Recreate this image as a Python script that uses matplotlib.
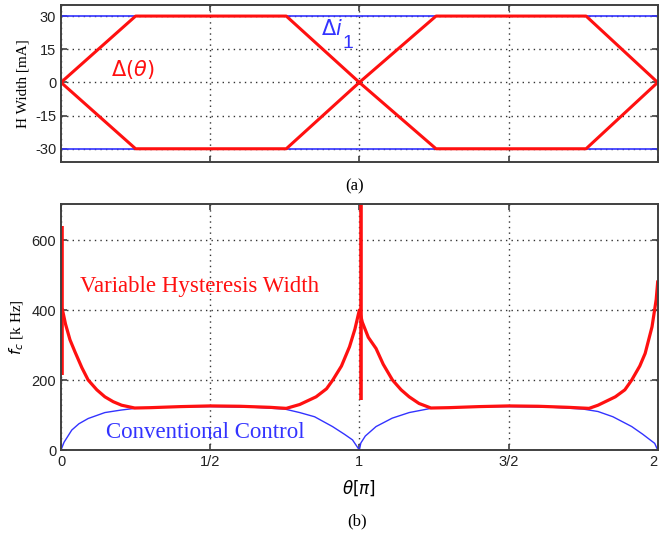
import matplotlib
matplotlib.use("Agg")
import matplotlib.pyplot as plt
import numpy as np

plt.rcParams["axes.unicode_minus"] = False

# ---- data ----
# top panel: hysteresis width vs theta [pi]
theta_top = [0.0, 0.25, 0.755, 1.0, 1.257, 1.76, 2.0]
width_upper = [0, 30, 30, 0, 30, 30, 0]
width_lower = [0, -30, -30, 0, -30, -30, 0]
fixed_width = 30  # Δi1 level

# bottom panel: switching frequency [kHz]
theta_var = [0.005, 0.015, 0.03, 0.047, 0.07, 0.091, 0.12, 0.147, 0.175, 0.203, 0.247,
             0.3, 0.4, 0.5, 0.6, 0.7, 0.755, 0.8, 0.855, 0.89, 0.911, 0.94,
             0.967, 0.985, 1.0, 1.01, 1.03, 1.056, 1.08, 1.111, 1.14, 1.167,
             1.2, 1.24, 1.3, 1.4, 1.5, 1.6, 1.7, 1.77, 1.8, 1.858, 1.89, 1.913,
             1.94, 1.958, 1.981, 1.995, 2.0]
f_var = [400, 360, 315, 280, 235, 200, 172, 152, 138, 128, 120,
         121, 124, 126, 125, 122, 119, 130, 152, 175, 200, 240,
         295, 345, 400, 365, 322, 290, 245, 200, 172, 152,
         133, 120, 121, 124, 126, 125, 122, 119, 128, 152, 172, 200,
         240, 276, 352, 430, 480]
# vertical spikes of the variable-width curve
spike_theta = [0.003, 1.004]
spike_low = [214, 143]
spike_high = [640, 720]

theta_conv = [0.0, 0.01, 0.036, 0.06, 0.091, 0.147, 0.2, 0.247, 0.35, 0.5,
              0.65, 0.75, 0.8, 0.85, 0.91, 0.95, 0.977, 1.0,
              1.005, 1.02, 1.056, 1.11, 1.167, 1.24, 1.35, 1.5, 1.65, 1.75,
              1.8, 1.85, 1.913, 1.95, 1.99, 2.0]
f_conv = [0, 22, 57, 75, 90, 107, 114, 119, 123, 124,
          122, 117, 107, 95, 67, 45, 29, 0,
          20, 40, 67, 91, 107, 119, 123, 124, 122, 117,
          110, 95, 67, 45, 19, 0]

xticks = [0, 0.5, 1, 1.5, 2]
xticklabels = ["0", "1/2", "1", "3/2", "2"]
yticks_top = [-30, -15, 0, 15, 30]
yticks_bot = [0, 200, 400, 600]

RED = "#ff1010"
BLUE = "#3333ff"
SPINE = "#404040"

fig = plt.figure(figsize=(6.59, 5.33), dpi=100)
ax1 = fig.add_axes([0.0926, 0.696, 0.9054, 0.2946])
ax2 = fig.add_axes([0.0926, 0.1557, 0.9054, 0.4616])

for ax in (ax1, ax2):
    ax.grid(True, linestyle=(0, (1, 3)), color="#333333", linewidth=1.0)
    ax.tick_params(direction="in", top=True, right=True, length=4,
                   colors=SPINE, labelcolor="#222222", labelsize=10.5, width=1.2)
    for s in ax.spines.values():
        s.set_color(SPINE)
        s.set_linewidth(1.4)
    ax.set_xlim(0, 2)
    ax.set_xticks(xticks)

# top panel
ax1.axhline(fixed_width, color=BLUE, lw=1.2)
ax1.axhline(-fixed_width, color=BLUE, lw=1.2)
ax1.plot(theta_top, width_upper, color=RED, lw=2.2)
ax1.plot(theta_top, width_lower, color=RED, lw=2.2)
ax1.set_ylim(-36, 35)
ax1.set_yticks(yticks_top)
ax1.set_xticklabels([])
ax1.set_ylabel("H Width [mA]", family="Liberation Serif", fontsize=11, labelpad=4)
ax1.text(0.24, 6, r"$\Delta(\theta)$", color=RED, fontsize=15, ha="center", va="center")
ax1.text(0.87, 24, r"$\Delta i$", color=BLUE, fontsize=15, ha="left", va="center")
ax1.text(0.945, 17.5, "1", color=BLUE, fontsize=14, ha="left", va="center",
         family="Liberation Sans")
for lab in ax1.get_yticklabels():
    lab.set_family("Liberation Sans")

# bottom panel
ax2.plot(theta_conv, f_conv, color=BLUE, lw=1.0)
ax2.plot(theta_var, f_var, color=RED, lw=2.3)
ax2.vlines(spike_theta, spike_low, spike_high, color=RED, lw=2.6)
ax2.set_ylim(0, 703)
ax2.set_yticks(yticks_bot)
ax2.set_xticklabels(xticklabels)
for lab in ax2.get_xticklabels() + ax2.get_yticklabels():
    lab.set_family("Liberation Sans")
ax2.get_xticklabels()[-1].set_ha("right")
ax2.set_ylabel(r"$f_c$ [k Hz]", family="Liberation Serif", fontsize=11, labelpad=4)
ax2.set_xlabel(r"$\theta[\pi]$", fontsize=12, labelpad=7)
ax2.text(0.465, 466, "Variable Hysteresis Width", color=RED, fontsize=16.5,
         ha="center", va="center", family="Liberation Serif")
ax2.text(0.485, 49, "Conventional Control", color=BLUE, fontsize=16.5,
         ha="center", va="center", family="Liberation Serif")

fig.text(355 / 659, 1 - 186 / 533, "(a)", ha="center", va="center",
         family="Liberation Serif", fontsize=12)
fig.text(357 / 659, 1 - 521 / 533, "(b)", ha="center", va="center",
         family="Liberation Serif", fontsize=12)

fig.savefig("out.png", dpi=100)
